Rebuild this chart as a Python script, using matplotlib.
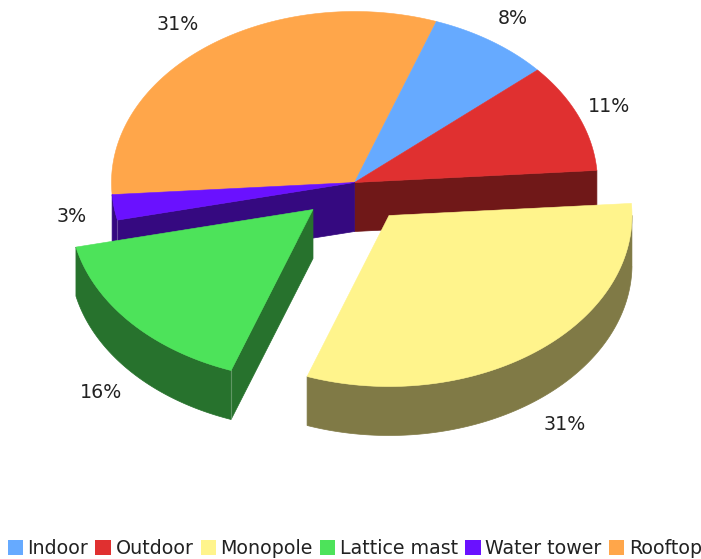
import numpy as np
import matplotlib
matplotlib.use('Agg')
import matplotlib.pyplot as plt
from matplotlib.patches import Patch, Polygon

# slices, clockwise starting at START_ANGLE
categories = ['Indoor', 'Outdoor', 'Monopole', 'Lattice mast', 'Water tower', 'Rooftop']
shares = [8.1, 10.3, 31.6, 16.0, 2.4, 31.6]
labels = ['8%', '11%', '31%', '16%', '3%', '31%']
colors = ['#66AAFF', '#E03030', '#FFF48C', '#4DE35A', '#6A11FF', '#FFA64A']
pulled_out = {'Monopole': (34.5, 33), 'Lattice mast': (-41.5, 27)}
label_centers = [(513, 19), (609, 106), (565, 424), (101, 393), (72, 216), (178, 24)]

START_ANGLE = 19.7
CX, CY = 354.5, 182.5
RX, RY = 243, 171
DEPTH = 49
TEXT_PX = 19

fig = plt.figure(figsize=(7.01, 5.59), dpi=100)
ax = fig.add_axes([0, 0, 1, 1])
ax.set_xlim(0, 701)
ax.set_ylim(559, 0)
ax.axis('off')


def rim(a0, a1, off, drop=0):
    t = np.radians(np.linspace(a0, a1, max(2, int(abs(a1 - a0) * 2))))
    x = CX + off[0] + RX * np.sin(t)
    y = CY + off[1] + drop - RY * np.cos(t)
    return np.column_stack([x, y])


def shade(color):
    return tuple(c * 0.5 for c in matplotlib.colors.to_rgb(color))


def radial_face(angle, off, color):
    edge = rim(angle, angle, off)[0]
    apex = np.array([CX + off[0], CY + off[1]])
    d = np.array([0, DEPTH])
    ax.add_patch(Polygon([apex, edge, edge + d, apex + d], fc=shade(color), ec=shade(color), lw=0.5))


def draw_slice(i):
    name = categories[i]
    off = pulled_out.get(name, (0, 0))
    a0, a1 = starts[i], starts[i] + shares[i] * 3.6
    n = len(categories)
    # cut faces only show next to a pulled out slice
    near_gap_0 = name in pulled_out or categories[(i - 1) % n] in pulled_out
    near_gap_1 = name in pulled_out or categories[(i + 1) % n] in pulled_out
    if near_gap_0 and np.sin(np.radians(a0)) < 0:
        radial_face(a0, off, colors[i])
    if near_gap_1 and np.sin(np.radians(a1)) > 0:
        radial_face(a1, off, colors[i])
    # outer wall, front half only
    w0, w1 = max(a0, 90), min(a1, 270)
    if w1 - w0 > 5:
        top = rim(w0, w1, off)
        low = rim(w0, w1, off, DEPTH)
        ax.add_patch(Polygon(np.vstack([top, low[::-1]]), fc=shade(colors[i]), ec=shade(colors[i]), lw=0.5))
        ax.plot([top[0, 0], low[0, 0]], [top[0, 1], low[0, 1]], color='white', alpha=0.25, lw=0.8, zorder=1)
    apex = [[CX + off[0], CY + off[1]]]
    ax.add_patch(Polygon(np.vstack([apex, rim(a0, a1, off)]), fc=colors[i], ec=colors[i], lw=0.4))


starts = START_ANGLE + 3.6 * np.concatenate([[0], np.cumsum(shares)[:-1]])

# back to front: fixed slices first, pulled out ones on top
order = [5, 0, 1, 4, 3, 2]
for i in order:
    draw_slice(i)

for text, (x, y) in zip(labels, label_centers):
    ax.text(x, y, text, ha='center', va='center', fontsize=TEXT_PX * 0.72, color='#222222')

handles = [Patch(fc=c, ec='none', label=n) for c, n in zip(colors, categories)]
fig.legend(handles=handles, loc='lower center', bbox_to_anchor=(0.506, -0.015), ncol=6, frameon=False,
           prop={'size': 19 * 0.72}, handlelength=0.8, handleheight=0.8, handletextpad=0.25,
           columnspacing=0.38, labelcolor='#222222', borderpad=0.2, borderaxespad=0.3)

fig.savefig('out.png', dpi=100)
